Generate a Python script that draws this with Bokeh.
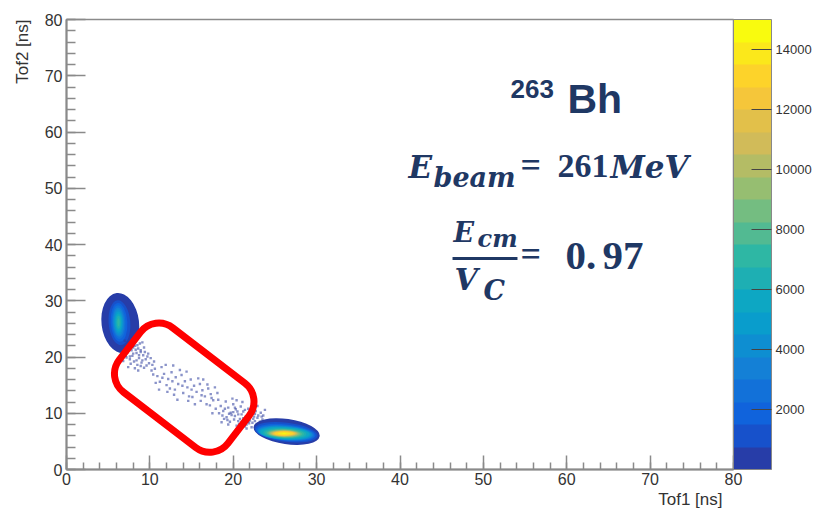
import math
from bokeh.plotting import figure
from bokeh.models import (ColumnDataSource, LinearColorMapper, ColorBar, FixedTicker,
                          SingleIntervalTicker, Label, BoxAnnotation, Title)
from bokeh.transform import transform
from bokeh.embed import file_html
from bokeh.resources import INLINE

# ---------------- data ----------------
# ROOT kBird palette, 20 contour bands
BIRD20 = ["#273da8", "#1751cb", "#1063dc", "#1271d9", "#1480d6", "#0e8ed1", "#099dcc",
          "#0da7c3", "#1eafb3", "#2eb7a4", "#52ba92", "#74bd81", "#96be71", "#b4bc65",
          "#d1bb59", "#e2c04a", "#f5c63a", "#fdd32a", "#fbe81b", "#f9fb0e"]
Z_LOW, Z_HIGH = 0, 15000
z_ticks = [2000, 4000, 6000, 8000, 10000, 12000, 14000]

# Blob near (Tof1~6, Tof2~26): contour bands (counts, centre, size, tilt)
blob1_level = [375, 1125, 1875, 2625, 3375, 4125, 4875, 5625, 6375, 7125]
blob1_cx = [6.45, 6.35, 6.30, 6.27, 6.25, 6.24, 6.24, 6.24, 6.24, 6.24]
blob1_cy = [26.05, 26.1, 26.15, 26.2, 26.2, 26.2, 26.2, 26.2, 26.2, 26.2]
blob1_w = [4.5, 2.6, 2.0, 1.64, 1.38, 1.16, 0.96, 0.76, 0.54, 0.26]
blob1_h = [10.7, 8.0, 6.9, 6.0, 5.2, 4.6, 3.9, 3.2, 2.4, 1.4]
blob1_ang = [0.12, 0.08, 0.06, 0.05, 0.04, 0.03, 0.02, 0.02, 0.0, 0.0]

# Blob near (Tof1~26, Tof2~6.4)
blob2_level = [375, 1125, 1875, 2625, 3375, 4125, 4875, 5625, 6375, 7125,
               7875, 8625, 9375, 10125, 10875, 11625, 12375, 13125, 13875, 14625]
blob2_cx = [26.4, 26.35, 26.3, 26.28, 26.25, 26.23, 26.2, 26.2, 26.18, 26.16,
            26.14, 26.12, 26.1, 26.1, 26.1, 26.1, 26.1, 26.1, 26.1, 26.1]
blob2_cy = [6.75, 6.62, 6.56, 6.52, 6.5, 6.48, 6.46, 6.45, 6.43, 6.42,
            6.41, 6.4, 6.4, 6.4, 6.4, 6.4, 6.4, 6.4, 6.4, 6.4]
blob2_w = [8.0, 7.6, 7.2, 6.9, 6.66, 6.44, 6.2, 5.9, 5.2, 4.7,
           4.2, 3.8, 3.5, 3.2, 3.0, 2.8, 2.6, 2.3, 1.5, 0.6]
blob2_h = [4.5, 3.44, 2.94, 2.66, 2.5, 2.36, 2.22, 2.08, 1.84, 1.64,
           1.46, 1.3, 1.16, 1.04, 0.94, 0.86, 0.78, 0.68, 0.44, 0.16]
blob2_ang = [-0.14, -0.12, -0.10, -0.09, -0.08, -0.07, -0.06, -0.05, -0.04, -0.03,
             -0.03, -0.02, -0.02, -0.01, 0, 0, 0, 0, 0, 0]

# sparse events in the band between the two blobs
band_x = [7.1, 7.4, 7.8, 8.2, 8.6, 7.3, 7.9, 8.4, 8.9, 7.6, 8.1, 8.7, 9.2, 7.2, 9.0, 8.5, 9.5, 7.7,
          9.8, 8.0, 6.9, 7.5, 8.8, 9.3, 8.3, 7.0, 9.6, 8.2, 10.1, 9.9, 7.4, 6.8, 10.3, 9.1, 8.6, 7.9,
          7.6, 8.9, 7.9, 8.4, 9.4, 7.1,
          7.3, 8.0, 8.7, 7.6, 9.1, 8.3, 7.0, 8.5, 9.7, 8.9, 10.5, 9.3,
          10.6, 10.9, 11.4, 11.7, 12.2, 12.0, 12.6, 13.1, 13.4, 13.0, 13.8, 14.2, 14.5, 14.0, 14.9,
          15.3, 15.6, 15.1, 16.0, 16.3, 16.6, 16.1, 17.0, 17.3, 17.6, 17.2, 11.2, 12.9, 15.8, 10.4,
          11.9, 13.6, 14.7, 16.8, 12.4, 18.1, 10.7, 15.4, 13.3, 14.4, 12.8, 16.4, 11.1, 17.8,
          11.5, 12.7, 13.9, 15.0, 16.2, 17.4, 10.2, 14.6, 16.9, 12.1,
          18.2, 18.5, 18.8, 18.3, 19.1, 19.4, 19.7, 19.2, 20.0, 20.3, 20.6, 20.1, 20.9, 21.2, 21.5,
          21.0, 21.8, 22.1, 22.4, 21.9, 22.7, 23.0, 22.6, 23.3, 19.6, 20.7, 18.9, 21.4, 22.2, 23.5,
          17.9, 19.9, 21.1, 22.9, 18.6, 20.4, 23.8, 17.5,
          20.2, 20.8, 21.3, 21.7, 22.0, 22.5, 21.6, 22.8, 20.5, 21.0, 22.3, 23.2, 19.8, 21.9, 22.6,
          23.6, 20.9, 19.4,
          19.0, 19.5, 20.0, 20.6, 21.2, 21.8, 22.3, 22.0, 21.4, 20.2, 22.9, 23.4, 18.7, 19.3, 20.4,
          21.6]
band_y = [21.9, 22.6, 21.2, 22.0, 21.5, 20.8, 20.2, 20.7, 20.9, 19.6, 19.2, 19.8, 20.3, 19.9, 19.0,
          18.6, 19.6, 18.8, 20.6, 21.7, 20.5, 21.4, 22.4, 21.7, 23.0, 22.9, 18.5, 18.0, 19.8, 18.9,
          18.2, 19.3, 18.6, 22.6, 17.6, 23.4,
          22.3, 21.2, 21.9, 19.4, 20.9, 20.2,
          21.3, 20.6, 20.3, 20.1, 19.4, 21.3, 21.4, 22.1, 20.1, 18.4, 19.2, 18.1,
          17.9, 16.6, 18.2, 17.0, 16.1, 15.0, 17.3, 16.4, 15.2, 14.2, 16.8, 15.7, 14.6, 13.6, 16.0,
          14.9, 13.8, 12.9, 15.2, 14.1, 13.0, 12.2, 14.4, 13.4, 12.3, 11.4, 15.6, 13.3, 16.2, 16.9,
          18.6, 17.7, 13.0, 11.6, 14.4, 13.6, 15.4, 11.6, 12.4, 17.4, 18.5, 16.0, 14.2, 14.6,
          16.3, 15.7, 14.9, 14.2, 13.2, 12.7, 17.6, 12.2, 15.1, 13.8,
          12.4, 11.3, 10.4, 10.0, 12.1, 11.0, 10.1, 9.3, 11.6, 10.7, 9.8, 8.9, 11.2, 10.3, 9.4,
          8.5, 10.8, 9.9, 9.0, 8.2, 10.4, 9.6, 8.6, 10.1, 8.5, 8.1, 9.0, 7.7, 7.5, 8.9,
          10.8, 12.6, 12.0, 11.3, 8.4, 12.3, 10.6, 10.0,
          9.5, 9.0, 8.8, 9.2, 8.7, 9.4, 8.0, 8.0, 10.3, 9.8, 10.4, 8.5, 9.7, 9.6, 9.9,
          9.6, 7.6, 8.0,
          10.8, 9.9, 10.2, 8.6, 9.1, 8.5, 8.3, 10.2, 10.6, 11.0, 9.2, 9.4, 9.6, 8.8, 7.8,
          7.3]

# ---------------- styles / layout ----------------
NAVY = "#1f3864"
AX = "#8a8a8a"
LBL = "#333333"
PX_PER_Y = 450.0 / 80.0      # frame pixels per Tof2 unit (for text baseline correction)

p = figure(width=814, height=510, x_range=(0, 80), y_range=(0, 80),
           output_backend="svg", toolbar_location=None, title=None,
           min_border_left=66, min_border_right=81, min_border_top=19, min_border_bottom=41)
p.background_fill_color = "white"
p.border_fill_color = "white"
p.outline_line_color = AX
p.outline_line_width = 1.5
p.xgrid.visible = False
p.ygrid.visible = False

for ax in (p.xaxis[0], p.yaxis[0]):
    ax.ticker = SingleIntervalTicker(interval=10, num_minor_ticks=5)
    ax.axis_line_color = AX
    ax.axis_line_width = 2
    ax.major_tick_line_color = AX
    ax.major_tick_line_width = 1.5
    ax.minor_tick_line_color = AX
    ax.minor_tick_line_width = 1.5
    ax.major_tick_out = 0
    ax.minor_tick_out = 0
    ax.major_label_text_font = "Liberation Sans"
    ax.major_label_text_font_size = "16px"
    ax.major_label_text_color = LBL
    ax.major_label_standoff = 4
p.xaxis[0].major_label_standoff = 3
p.xaxis[0].major_tick_in = 14
p.xaxis[0].minor_tick_in = 7
p.yaxis[0].major_tick_in = 19
p.yaxis[0].minor_tick_in = 9

# axis titles, right/top aligned as in ROOT
p.add_layout(Title(text="Tof2 [ns]", align="right", text_font="Liberation Sans",
                   text_font_size="17px", text_font_style="normal", text_color=LBL,
                   standoff=19), "left")
p.add_layout(Title(text="Tof1 [ns]", align="right", text_font="Liberation Sans",
                   text_font_size="17px", text_font_style="normal", text_color=LBL,
                   standoff=0, offset=11), "below")

mapper = LinearColorMapper(palette=BIRD20, low=Z_LOW, high=Z_HIGH)

src1 = ColumnDataSource(dict(x=blob1_cx, y=blob1_cy, w=blob1_w, h=blob1_h, a=blob1_ang, z=blob1_level))
src2 = ColumnDataSource(dict(x=blob2_cx, y=blob2_cy, w=blob2_w, h=blob2_h, a=blob2_ang, z=blob2_level))
for s in (src1, src2):
    p.ellipse(x="x", y="y", width="w", height="h", angle="a", source=s,
              fill_color=transform("z", mapper), line_color=None)

p.scatter(band_x, band_y, marker="square", size=2.4, fill_color="#2a3a9c",
          line_color=None, fill_alpha=0.55)

# red selection box (rounded rectangle)
p.rect(x=[14.12], y=[14.54], width=[137], height=[81], width_units="screen",
       height_units="screen", angle=[-0.6545], fill_color=None, line_color="#ff0000",
       line_width=7, border_radius=23)

cbar = ColorBar(color_mapper=mapper, ticker=FixedTicker(ticks=z_ticks), width=38,
                padding=0, margin=0, location="top_left",
                major_label_text_font="Liberation Sans", major_label_text_font_size="13px",
                major_label_text_color=LBL, label_standoff=4,
                major_tick_in=20, major_tick_out=0, major_tick_line_color="#444444",
                minor_tick_line_color=None, bar_line_color="#888888",
                border_line_color=None, background_fill_alpha=0)
p.add_layout(cbar, "right")


def lab(text, x, y, size, font, style="bold", color=NAVY, align="left"):
    # y is the wanted alphabetic baseline; shift for Bokeh's label box placement
    p.add_layout(Label(x=x, y=y + 0.365 * size / PX_PER_Y, text=text, text_font=font,
                       text_font_size=f"{size}px", text_font_style=style, text_color=color,
                       text_align=align, text_baseline="alphabetic"))


# annotation texts
lab("263", 53.25, 65.96, 26, "Liberation Sans")
lab("Bh", 60.09, 63.29, 41, "Liberation Sans")

SER = "DejaVu Serif"
NUM = "Liberation Serif"
lab("E", 41.02, 51.73, 31, SER, "bold italic")
lab("beam", 44.02, 50.13, 27, SER, "bold italic")
lab("=", 54.45, 51.73, 36, NUM, "bold")
lab("261", 58.89, 51.73, 34, NUM, "bold")
lab("MeV", 65.25, 51.73, 31, SER, "bold italic")

lab("E", 46.42, 40.36, 27, SER, "bold italic")
lab("cm", 49.30, 39.56, 24, SER, "bold italic")
p.add_layout(BoxAnnotation(left=46.3, right=54.09, bottom=37.24, top=37.78,
                           fill_color=NAVY, fill_alpha=1.0, line_color=None))
lab("V", 46.54, 31.82, 30, SER, "bold italic")
lab("C", 50.01, 30.04, 27, SER, "bold italic")
lab("=", 54.45, 36.0, 36, NUM, "bold")
lab("0.", 59.85, 35.38, 41, NUM, "bold")
lab("97", 64.29, 35.38, 41, NUM, "bold")

open("out.html", "w").write(file_html(p, INLINE))
